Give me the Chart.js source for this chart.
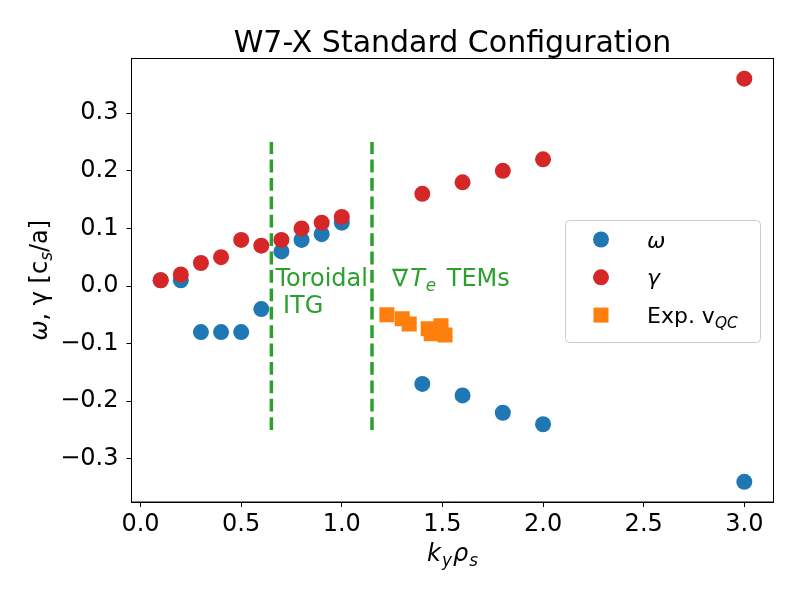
<!DOCTYPE html>
<html>
<head>
<meta charset="utf-8">
<script src="https://cdn.jsdelivr.net/npm/chart.js@4.4.0/dist/chart.umd.min.js"></script>
<style>
  body { margin: 0; background: #fff; }
  canvas { display: block; }
</style>
</head>
<body>
<canvas id="growthChart" width="800" height="600"></canvas>
<script>
// growth rates and frequencies vs k_y rho_s
const kyValues = [0.1, 0.2, 0.3, 0.4, 0.5, 0.6, 0.7, 0.8, 0.9, 1.0, 1.4, 1.6, 1.8, 2.0, 3.0];
const omegaValues = [0.01, 0.01, -0.08, -0.08, -0.08, -0.04, 0.06, 0.08, 0.09, 0.11, -0.17, -0.19, -0.22, -0.24, -0.34];
const gammaValues = [0.01, 0.02, 0.04, 0.05, 0.08, 0.07, 0.08, 0.10, 0.11, 0.12, 0.16, 0.18, 0.20, 0.22, 0.36];

// experimental QC mode velocities
const expKy = [1.224, 1.300, 1.335, 1.429, 1.444, 1.493, 1.513];
const expV = [-0.050, -0.057, -0.066, -0.074, -0.083, -0.069, -0.085];

// regime boundaries
const boundaryKy = [0.65, 1.15];
const boundaryY = [-0.25, 0.25];

const xTicks = [0.0, 0.5, 1.0, 1.5, 2.0, 2.5, 3.0];
const yTicks = [-0.3, -0.2, -0.1, 0.0, 0.1, 0.2, 0.3];

const FONT = 'DejaVu Sans';
const BLUE = '#1f77b4', RED = '#d62728', ORANGE = '#ff7f0e', GREEN = '#2ca02c';

function toPoints(xs, ys) {
  return xs.map((x, i) => ({ x: x, y: ys[i] }));
}

// draws text runs with italic / subscript parts
function drawRuns(ctx, runs, x, y, align, size, color) {
  ctx.save();
  ctx.fillStyle = color;
  ctx.textBaseline = 'alphabetic';
  ctx.textAlign = 'left';
  const fontOf = r => (r.it ? 'italic ' : '') + (r.sub ? size * 0.7 : size) + 'px "' + FONT + '"';
  const gap = r => (r.gap || 0);
  let width = 0;
  runs.forEach(r => { ctx.font = fontOf(r); width += ctx.measureText(r.t).width + gap(r); });
  let cx = align === 'center' ? x - width / 2 : (align === 'right' ? x - width : x);
  runs.forEach(r => {
    ctx.font = fontOf(r);
    ctx.fillText(r.t, cx, r.sub ? y + size * 0.22 : y);
    cx += ctx.measureText(r.t).width + gap(r);
  });
  ctx.restore();
}

const decorPlugin = {
  id: 'decor',
  afterDraw(chart) {
    const ctx = chart.ctx;
    const a = chart.chartArea;
    const xs = chart.scales.x, ys = chart.scales.y;
    const midX = (a.left + a.right) / 2;

    // frame
    ctx.save();
    ctx.strokeStyle = '#000';
    ctx.lineWidth = 1;
    ctx.strokeRect(a.left, a.top, a.right - a.left, a.bottom - a.top);
    ctx.restore();

    // title
    drawRuns(ctx, [{ t: 'W7-X Standard Configuration' }], midX, 52, 'center', 30, '#000');

    // x label
    drawRuns(ctx, [{ t: 'k', it: true, gap: 1 }, { t: 'y', it: true, sub: true, gap: 1 }, { t: 'ρ', it: true, gap: 1 }, { t: 's', it: true, sub: true }],
      midX, 561, 'center', 24, '#000');

    // y label
    ctx.save();
    ctx.translate(47, (a.top + a.bottom) / 2);
    ctx.rotate(-Math.PI / 2);
    drawRuns(ctx, [{ t: 'ω', it: true }, { t: ', γ [c' }, { t: 's', it: true, sub: true }, { t: '/a]' }], 0, 0, 'center', 24, '#000');
    ctx.restore();

    // regime annotations
    const tx = xs.getPixelForValue(0.67), ty = ys.getPixelForValue(0.0);
    drawRuns(ctx, [{ t: 'Toroidal' }], tx, ty, 'left', 24, GREEN);
    drawRuns(ctx, [{ t: ' ITG' }], tx, ty + 27, 'left', 24, GREEN);
    drawRuns(ctx, [{ t: '∇', gap: 2 }, { t: 'T', it: true, gap: 1 }, { t: 'e', it: true, sub: true, gap: 3 }, { t: ' TEMs' }],
      xs.getPixelForValue(1.25), ty, 'left', 24, GREEN);

    // legend
    const lx = 565, ly = 220, lw = 195, lh = 122;
    ctx.save();
    ctx.fillStyle = 'rgba(255,255,255,0.8)';
    ctx.strokeStyle = '#cccccc';
    ctx.lineWidth = 1;
    ctx.beginPath();
    ctx.roundRect(lx + 0.5, ly + 0.5, lw, lh, 4);
    ctx.fill();
    ctx.stroke();
    const entries = [
      { color: BLUE, shape: 'circle', runs: [{ t: 'ω', it: true }] },
      { color: RED, shape: 'circle', runs: [{ t: 'γ', it: true }] },
      { color: ORANGE, shape: 'rect', runs: [{ t: 'Exp. v' }, { t: 'QC', it: true, sub: true }] }
    ];
    entries.forEach((e, i) => {
      const my = 239.5 + i * 37.8;
      ctx.fillStyle = e.color;
      if (e.shape === 'circle') {
        ctx.beginPath();
        ctx.arc(601, my, 8, 0, Math.PI * 2);
        ctx.fill();
      } else {
        ctx.fillRect(593.5, my - 7.5, 15, 15);
      }
      drawRuns(ctx, e.runs, 647, my + 8, 'left', 22, '#000');
    });
    ctx.restore();
  }
};

const ctx = document.getElementById('growthChart').getContext('2d');

const boundaryDatasets = boundaryKy.map(k => ({
  type: 'line',
  data: boundaryY.map(y => ({ x: k, y: y })),
  borderColor: GREEN,
  borderWidth: 3.5,
  borderDash: [12.8, 5.6],
  pointRadius: 0,
  fill: false,
  order: 5
}));

new Chart(ctx, {
  type: 'scatter',
  data: {
    datasets: [
      {
        label: 'omega',
        data: toPoints(kyValues, omegaValues),
        backgroundColor: BLUE,
        borderWidth: 0,
        pointRadius: 8,
        pointHoverRadius: 8,
        order: 3
      },
      {
        label: 'gamma',
        data: toPoints(kyValues, gammaValues),
        backgroundColor: RED,
        borderWidth: 0,
        pointRadius: 8,
        pointHoverRadius: 8,
        order: 2
      },
      {
        label: 'Exp. v_QC',
        data: toPoints(expKy, expV),
        backgroundColor: ORANGE,
        borderWidth: 0,
        pointStyle: 'rect',
        pointRadius: 10.6,
        pointHoverRadius: 10.6,
        order: 1
      },
      ...boundaryDatasets
    ]
  },
  options: {
    responsive: false,
    animation: false,
    layout: { padding: { top: 58.5, right: 26.5, left: 0, bottom: 0 } },
    plugins: {
      legend: { display: false },
      title: { display: false },
      tooltip: { enabled: false }
    },
    scales: {
      x: {
        type: 'linear',
        min: -0.045,
        max: 3.145,
        afterFit: s => { s.height = 98; },
        afterBuildTicks: s => { s.ticks = xTicks.map(v => ({ value: v })); },
        grid: { drawOnChartArea: false, drawTicks: true, tickLength: 5, color: '#000' },
        border: { display: true, color: '#000' },
        ticks: {
          color: '#000',
          padding: 3,
          maxRotation: 0,
          font: { family: FONT, size: 24 },
          callback: v => v.toFixed(1)
        }
      },
      y: {
        type: 'linear',
        min: -0.375,
        max: 0.395,
        afterFit: s => { s.width = 131.5; },
        afterBuildTicks: s => { s.ticks = yTicks.map(v => ({ value: v })); },
        grid: { drawOnChartArea: false, drawTicks: true, tickLength: 5, color: '#000' },
        border: { display: true, color: '#000' },
        ticks: {
          color: '#000',
          padding: 8,
          font: { family: FONT, size: 24 },
          callback: v => (v < -1e-9 ? '\u2212' + Math.abs(v).toFixed(1) : Math.abs(v).toFixed(1))
        }
      }
    }
  },
  plugins: [decorPlugin]
});
</script>
</body>
</html>
